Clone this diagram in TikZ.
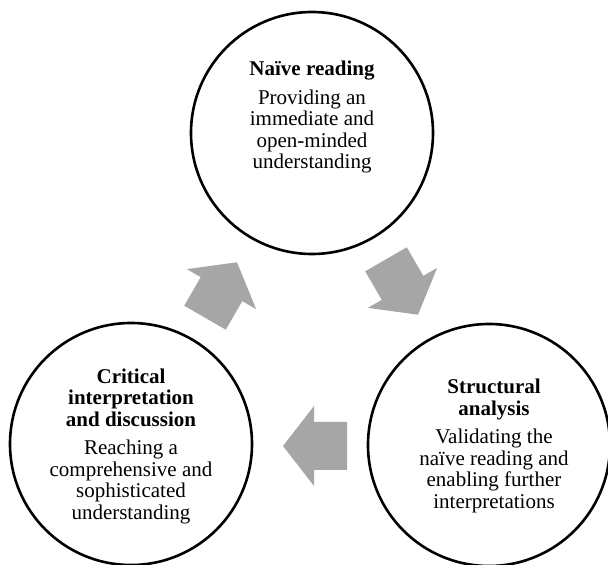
\documentclass[tikz,border=0pt]{standalone}
\usepackage{fontspec}
\setmainfont{Liberation Serif}
\usepackage{tikz}
\definecolor{arrowgray}{RGB}{166,166,166}

\begin{document}
\begin{tikzpicture}[x=1pt, y=1pt,
				   stage/.style={circle, draw=black, line width=2.6pt, minimum size=242pt, inner sep=0pt},
				   stagetext/.style={align=center, inner sep=0pt, font=\fontsize{21}{21.5}\selectfont},
				   flow/.pic={\fill[arrowgray] (32,0) -- (1,40) -- (1,24) -- (-32,24) -- (-32,-24) -- (1,-24) -- (1,-40) -- cycle;}]
\useasboundingbox (0,0) rectangle (608,565);

% the three stages
\node[stage] (naive) at (312,432) {};
\node[stage] (critical) at (131,121) {};
\node[stage] (structural) at (489,120) {};

\node[stagetext] (naivetext) at (312,448) {\textbf{Naïve reading}\\[7pt]
	Providing an\\ immediate and\\ open-minded\\ understanding};
\node[stagetext] (criticaltext) at (131,119) {\textbf{Critical}\\ \textbf{interpretation}\\ \textbf{and discussion}\\[7pt]
	Reaching a\\ comprehensive and\\ sophisticated\\ understanding};
\node[stagetext] (structuraltext) at (494,119) {\textbf{Structural}\\ \textbf{analysis}\\[7pt]
	Validating the\\ naïve reading and\\ enabling further\\ interpretations};

% block arrows going round clockwise
\pic[rotate=-60] at (402,278) {flow};
\pic[rotate=180] at (315,119) {flow};
\pic[rotate=60] at (221,275) {flow};
\end{tikzpicture}
\end{document}
